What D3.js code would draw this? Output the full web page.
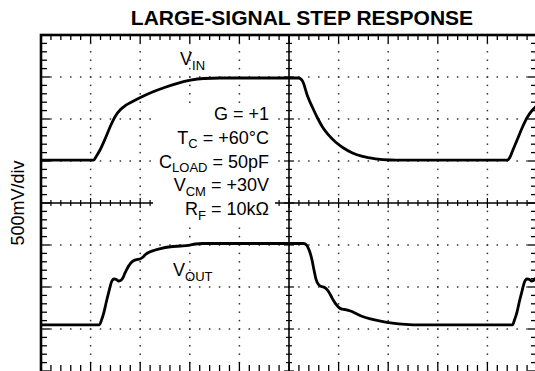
<!DOCTYPE html>
<html>
<head>
<meta charset="utf-8">
<script src="https://cdn.jsdelivr.net/npm/d3@7"></script>
<style>
  body { margin: 0; background: #fff; }
  svg { display: block; }
  text { font-family: "Liberation Sans", Arial, Helvetica, sans-serif; fill: #000; white-space: pre; }
</style>
</head>
<body>
<svg id="chart" width="535" height="371"></svg>
<script>
// Scope graticule
const hDivisions = 10;
const vDivisions = 8;
const voltsPerDiv = 0.5;
const minorPerDiv = 5;

// Input trace: time in divisions, volts relative to the centre graticule line
const vinTime  = [0, 1.058, 1.119, 1.200, 1.300, 1.401, 1.502, 1.603, 1.704, 1.845, 2.046, 2.248, 2.490, 2.752, 3.014, 3.276, 3.619, 5.192,
                  5.272, 5.373, 5.474, 5.575, 5.675, 5.796, 5.937, 6.099, 6.280, 6.482, 6.744, 7.046, 7.248, 9.405,
                  9.446, 9.506, 9.607, 9.708, 9.808, 9.909, 10.010];
const vinVolts = [0.510, 0.510, 0.560, 0.643, 0.774, 0.917, 1.036, 1.113, 1.161, 1.208, 1.268, 1.321, 1.375, 1.425, 1.462, 1.482, 1.488, 1.488,
                  1.452, 1.274, 1.137, 1.012, 0.905, 0.810, 0.726, 0.655, 0.595, 0.554, 0.526, 0.512, 0.510, 0.510,
                  0.536, 0.619, 0.762, 0.905, 1.024, 1.107, 1.167];

// Output trace
const voutTime  = [0, 1.179, 1.220, 1.270, 1.321, 1.371, 1.421, 1.472, 1.522, 1.563, 1.603, 1.643, 1.694, 1.744, 1.804, 1.865, 1.925, 1.986,
                   2.046, 2.107, 2.188, 2.288, 2.409, 2.611, 2.812, 2.974, 3.115, 3.256, 5.292,
                   5.353, 5.413, 5.464, 5.504, 5.544, 5.595, 5.655, 5.716, 5.776, 5.837, 5.897, 5.958, 6.018, 6.079, 6.159, 6.240,
                   6.341, 6.482, 6.643, 6.845, 7.087, 7.349, 7.651, 9.506,
                   9.546, 9.597, 9.647, 9.698, 9.748, 9.798, 9.849, 9.889, 9.929, 9.970, 10.020];
const voutVolts = [-1.450, -1.450, -1.393, -1.298, -1.167, -1.048, -0.940, -0.905, -0.911, -0.929, -0.923, -0.899, -0.833, -0.774, -0.720, -0.687, -0.673, -0.669,
                   -0.649, -0.613, -0.583, -0.562, -0.542, -0.521, -0.512, -0.504, -0.488, -0.482, -0.482,
                   -0.500, -0.571, -0.679, -0.798, -0.905, -0.970, -0.994, -1.006, -1.036, -1.095, -1.161, -1.214, -1.250, -1.264, -1.271, -1.286,
                   -1.313, -1.351, -1.379, -1.405, -1.429, -1.444, -1.450, -1.450,
                   -1.393, -1.298, -1.167, -1.048, -0.940, -0.905, -0.911, -0.929, -0.923, -0.899, -0.833];

// Test conditions
const condMain = ["G", "T", "C", "V", "R"];
const condSub  = ["", "C", "LOAD", "CM", "F"];
const condRest = [" = +1", " = +60°C", " = 50pF", " = +30V", " = 10kΩ"];

const titleText = "LARGE-SIGNAL STEP RESPONSE";
const yAxisLabel = "500mV/div";

const svg = d3.select("#chart");
const W = 535, H = 371;
const vHalf = vDivisions / 2 * voltsPerDiv;

const x = d3.scaleLinear().domain([0, hDivisions]).range([41, 537]);
const y = d3.scaleLinear().domain([-vHalf, vHalf]).range([371, 35]);

const minorT = d3.range(0, hDivisions * minorPerDiv + 1).map(k => k / minorPerDiv);
const minorV = d3.range(0, vDivisions * minorPerDiv + 1).map(k => -vHalf + k * voltsPerDiv / minorPerDiv);
const isMajorT = t => Math.abs(t - Math.round(t)) < 1e-6;
const isMajorV = v => Math.abs(v / voltsPerDiv - Math.round(v / voltsPerDiv)) < 1e-6;

// Title and vertical scale label
svg.append("text").attr("x", 302).attr("y", 24.5).attr("text-anchor", "middle")
  .attr("font-size", 21).attr("font-weight", "bold").text(titleText);
svg.append("text").attr("transform", `translate(24,${y(0)}) rotate(-90)`)
  .attr("text-anchor", "middle").attr("font-size", 18).text(yAxisLabel);

// Dotted graticule
const gGrid = svg.append("g").attr("fill", "#333");
const gridT = d3.range(1, hDivisions).filter(i => i !== hDivisions / 2);
const gridV = d3.range(1, vDivisions).map(i => -vHalf + i * voltsPerDiv).filter(v => Math.abs(v) > 1e-6);
gridT.forEach(t => {
  gGrid.selectAll(null).data(minorV).join("rect")
    .attr("x", x(t) - 0.75).attr("y", d => y(d) - 0.75).attr("width", 1.5).attr("height", 1.5);
});
gridV.forEach(v => {
  gGrid.selectAll(null).data(minorT).join("rect")
    .attr("x", d => x(d) - 0.75).attr("y", y(v) - 0.75).attr("width", 1.5).attr("height", 1.5);
});

// Centre axes with ticks on both sides
const gAxes = svg.append("g").attr("stroke", "#000");
const xc = x(hDivisions / 2), yc = y(0);
gAxes.append("line").attr("x1", xc).attr("x2", xc).attr("y1", y(vHalf)).attr("y2", y(-vHalf)).attr("stroke-width", 1.6);
gAxes.append("line").attr("x1", x(0)).attr("x2", x(hDivisions)).attr("y1", yc).attr("y2", yc).attr("stroke-width", 1.6);
gAxes.selectAll(null).data(minorV).join("line")
  .attr("x1", d => xc - (isMajorV(d) ? 5 : 3)).attr("x2", d => xc + (isMajorV(d) ? 5 : 3))
  .attr("y1", d => y(d)).attr("y2", d => y(d)).attr("stroke-width", 1.2);
gAxes.selectAll(null).data(minorT).join("line")
  .attr("y1", d => yc - (isMajorT(d) ? 5 : 3)).attr("y2", d => yc + (isMajorT(d) ? 5 : 3))
  .attr("x1", d => x(d)).attr("x2", d => x(d)).attr("stroke-width", 1.2);

// Frame with inward ticks
const gFrame = svg.append("g").attr("stroke", "#000");
const L = x(0), R = x(hDivisions), T = y(vHalf), B = y(-vHalf);
gFrame.selectAll(null).data(minorV).join("line")
  .attr("x1", L).attr("x2", d => L + (isMajorV(d) ? 9 : 6))
  .attr("y1", d => y(d)).attr("y2", d => y(d)).attr("stroke-width", 1.3);
gFrame.selectAll(null).data(minorV).join("line")
  .attr("x1", R).attr("x2", d => R - (isMajorV(d) ? 9 : 6))
  .attr("y1", d => y(d)).attr("y2", d => y(d)).attr("stroke-width", 1.3);
gFrame.selectAll(null).data(minorT).join("line")
  .attr("y1", T).attr("y2", d => T + (isMajorT(d) ? 8 : 5))
  .attr("x1", d => x(d)).attr("x2", d => x(d)).attr("stroke-width", 1.3);
gFrame.selectAll(null).data(minorT).join("line")
  .attr("y1", B).attr("y2", d => B - (isMajorT(d) ? 9 : 6))
  .attr("x1", d => x(d)).attr("x2", d => x(d)).attr("stroke-width", 1.3);
gFrame.append("rect").attr("x", L).attr("y", T).attr("width", R - L).attr("height", B - T + 2)
  .attr("fill", "none").attr("stroke-width", 2.6);

// Test-condition block on a white panel
const gCond = svg.append("g");
const panel = gCond.append("rect").attr("fill", "#fff");
const condText = gCond.append("g").attr("font-size", 18).attr("text-anchor", "end");
condMain.forEach((m, i) => {
  const t = condText.append("text").attr("x", 269).attr("y", 120 + i * 23.8);
  t.append("tspan").text(m);
  if (condSub[i]) {
    t.append("tspan").attr("font-size", 13).attr("dy", 4.5).text(condSub[i]);
    t.append("tspan").attr("dy", -4.5).text(condRest[i]);
  } else {
    t.append("tspan").text(condRest[i]);
  }
});
const bb = condText.node().getBBox();
panel.attr("x", bb.x - 6).attr("y", bb.y - 1).attr("width", bb.width + 12).attr("height", bb.height + 4);

// Traces
svg.append("defs").append("clipPath").attr("id", "plot-clip")
  .append("rect").attr("x", L).attr("y", T).attr("width", R - L).attr("height", B - T);
const line = d3.line().x(d => x(d[0])).y(d => y(d[1])).curve(d3.curveMonotoneX);
const vin = d3.zip(vinTime, vinVolts);
const vout = d3.zip(voutTime, voutVolts);
const gTr = svg.append("g").attr("clip-path", "url(#plot-clip)")
  .attr("fill", "none").attr("stroke", "#000").attr("stroke-width", 2.8)
  .attr("stroke-linejoin", "round").attr("stroke-linecap", "round");
gTr.append("path").attr("d", line(vin));
gTr.append("path").attr("d", line(vout));

// Trace labels
function traceLabel(px, py, main, sub) {
  const t = svg.append("text").attr("x", px).attr("y", py).attr("font-size", 18);
  t.append("tspan").text(main);
  t.append("tspan").attr("font-size", 13).attr("dy", 4.5).text(sub);
}
traceLabel(180, 65, "V", "IN");
traceLabel(173, 276, "V", "OUT");
</script>
</body>
</html>
